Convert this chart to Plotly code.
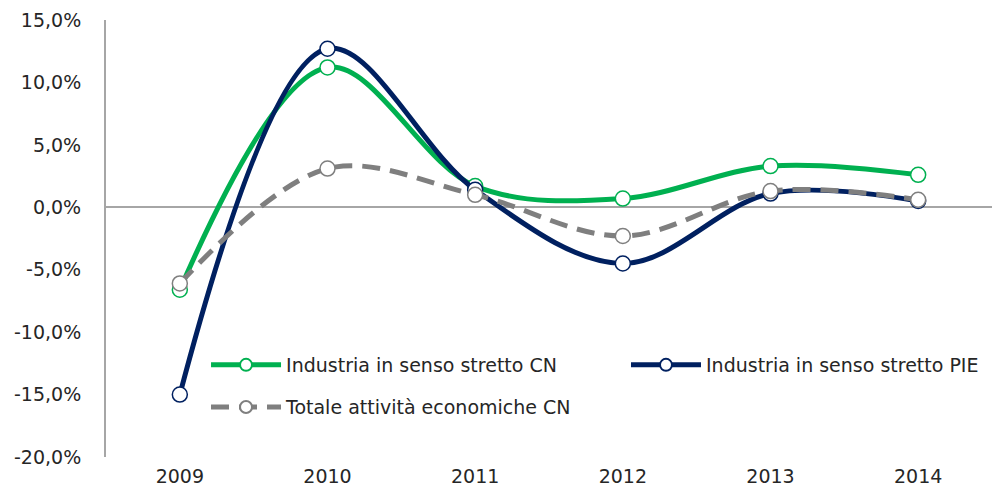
import plotly.graph_objects as go

years = ["2009", "2010", "2011", "2012", "2013", "2014"]
ind_cn = [-6.6, 11.2, 1.7, 0.7, 3.3, 2.6]
ind_pie = [-15.0, 12.7, 1.4, -4.5, 1.1, 0.5]
tot_cn = [-6.1, 3.1, 1.0, -2.3, 1.3, 0.6]
names = ["Industria in senso stretto CN", "Industria in senso stretto PIE", "Totale attività economiche CN"]
y_tickvals = [-20, -15, -10, -5, 0, 5, 10, 15]
y_ticktext = ["-20,0%", "-15,0%", "-10,0%", "-5,0%", "0,0%", "5,0%", "10,0%", "15,0%"]

FONT = "DejaVu Sans"
FS = 19
fig = go.Figure()

def add(y, name, color, mcolor, dash, legend):
    fig.add_trace(go.Scatter(
        x=years, y=y, name=name, mode="lines+markers",
        line=dict(color=color, width=5, shape="spline", smoothing=1.0, dash=dash),
        marker=dict(symbol="circle", size=15, color="white", line=dict(color=mcolor, width=1.5)),
        legend=legend,
    ))

add(ind_cn, names[0], "#00B050", "#00B050", "solid", "legend")
add(ind_pie, names[1], "#002060", "#002060", "solid", "legend3")
add(tot_cn, names[2], "#7F7F7F", "#7F7F7F", "18px,10px", "legend2")

leg_common = dict(orientation="h", xanchor="left", yanchor="middle", itemwidth=70,
                  itemsizing="constant",
                  font=dict(family=FONT, size=FS, color="#262626"), bgcolor="rgba(0,0,0,0)")
fig.update_layout(
    width=1000, height=496,
    margin=dict(l=106, r=8, t=20, b=39),
    paper_bgcolor="white", plot_bgcolor="white",
    font=dict(family=FONT, size=FS, color="#262626"),
    showlegend=True,
    legend=dict(x=0.1129, y=0.2105, **leg_common),
    legend3=dict(x=0.5869, y=0.2105, **leg_common),
    legend2=dict(x=0.1129, y=0.114, **leg_common),
)
fig.update_xaxes(type="category", range=[-0.5, 5.5], showline=False, showgrid=False,
                 zeroline=False, ticks="", ticklabelstandoff=6, tickfont=dict(size=FS))
fig.update_yaxes(range=[-20, 15], tickvals=y_tickvals, ticktext=y_ticktext,
                 showgrid=False, showline=True, linecolor="#A6A6A6", linewidth=2,
                 zeroline=True, zerolinecolor="#A6A6A6", zerolinewidth=2,
                 ticks="", ticklabelstandoff=19, tickfont=dict(size=FS))

fig.write_html("out.html", config={"displayModeBar": False},
               post_script="document.body.style.margin='0';document.body.style.padding='0';")
